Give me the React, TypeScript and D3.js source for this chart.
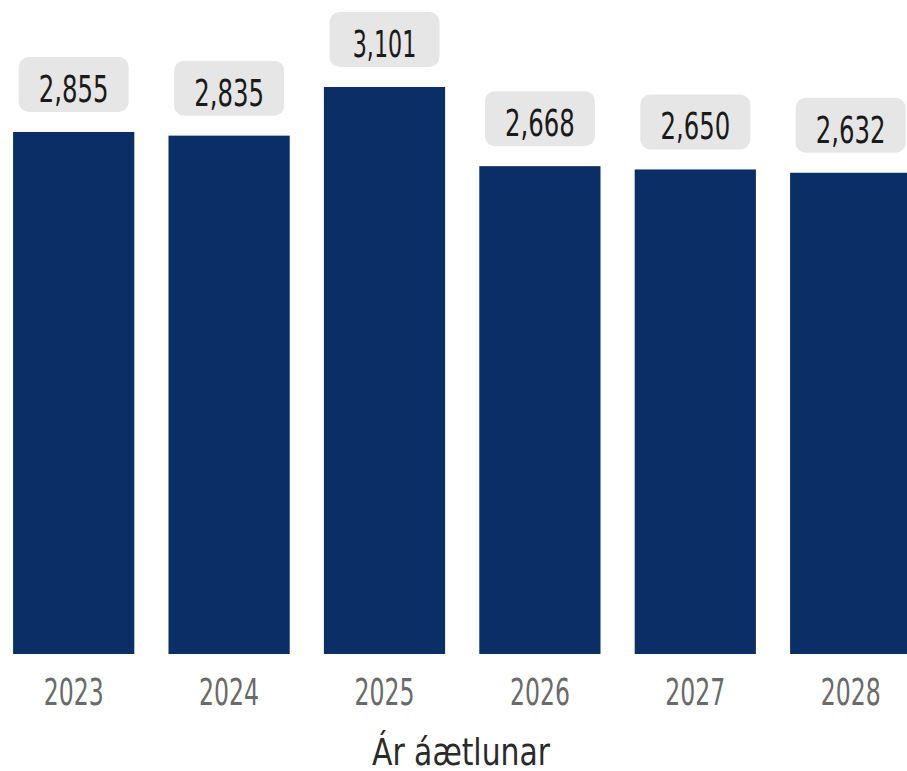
import * as d3 from 'd3'

const years  = ['2023', '2024', '2025', '2026', '2027', '2028']
const values = [2855, 2835, 3101, 2668, 2650, 2632]
const axisTitle = 'Ár áætlunar'

const W = 907
const H = 771
const BAR = '#0a2f66'
const PILL = '#e6e6e6'
const FONT = '"DejaVu Sans Condensed", "DejaVu Sans", sans-serif'

// rough widths of a narrow DIN-like face, used to squeeze the glyphs
const charW = (c: string, digit: number) =>
  c === ',' ? digit * 0.5 : c === '1' ? digit * 0.8 : digit
const fitLen = (s: string, digit: number) =>
  s.split('').reduce((a, c) => a + charW(c, digit), 0)

export default function App() {
  const x = d3.scaleBand<string>()
    .domain(years)
    .range([-4, 928.4])
    .paddingInner(0.22)
    .paddingOuter(0.11)

  const baseY = 654
  const y = d3.scaleLinear()
    .domain([0, 3101])
    .range([baseY, 87])

  const fmt = d3.format(',')
  const pillW = 110
  const pillH = 55

  return (
    <svg width={W} height={H} style={{ position: 'absolute', left: 0, top: 0, background: '#fff' }}
      fontFamily={FONT}>
      {/* bars */}
      {years.map((yr, i) => (
        <rect key={yr} x={x(yr)} y={y(values[i])} width={x.bandwidth()}
          height={baseY - y(values[i])} fill={BAR} />
      ))}

      {/* value labels */}
      {years.map((yr, i) => {
        const cx = (x(yr) ?? 0) + x.bandwidth() / 2
        const top = y(values[i])
        const s = fmt(values[i])
        return (
          <g key={'l' + yr}>
            <rect x={cx - pillW / 2} y={top - 20 - pillH} width={pillW} height={pillH}
              rx={10} fill={PILL} />
            <text x={cx} y={top - 30} textAnchor="middle" fontSize={37} fill="#1a1a1a"
              textLength={fitLen(s, 15.5)} lengthAdjust="spacingAndGlyphs">
              {s}
            </text>
          </g>
        )
      })}

      {/* x tick labels */}
      {years.map(yr => (
        <text key={'t' + yr} x={(x(yr) ?? 0) + x.bandwidth() / 2} y={705}
          textAnchor="middle" fontSize={37} fill="#6a6a6a"
          textLength={fitLen(yr, 15)} lengthAdjust="spacingAndGlyphs">
          {yr}
        </text>
      ))}

      {/* axis title */}
      <text x={461} y={765} textAnchor="middle" fontSize={38} fill="#2a2a2a"
        textLength={178} lengthAdjust="spacingAndGlyphs">
        {axisTitle}
      </text>
    </svg>
  )
}
